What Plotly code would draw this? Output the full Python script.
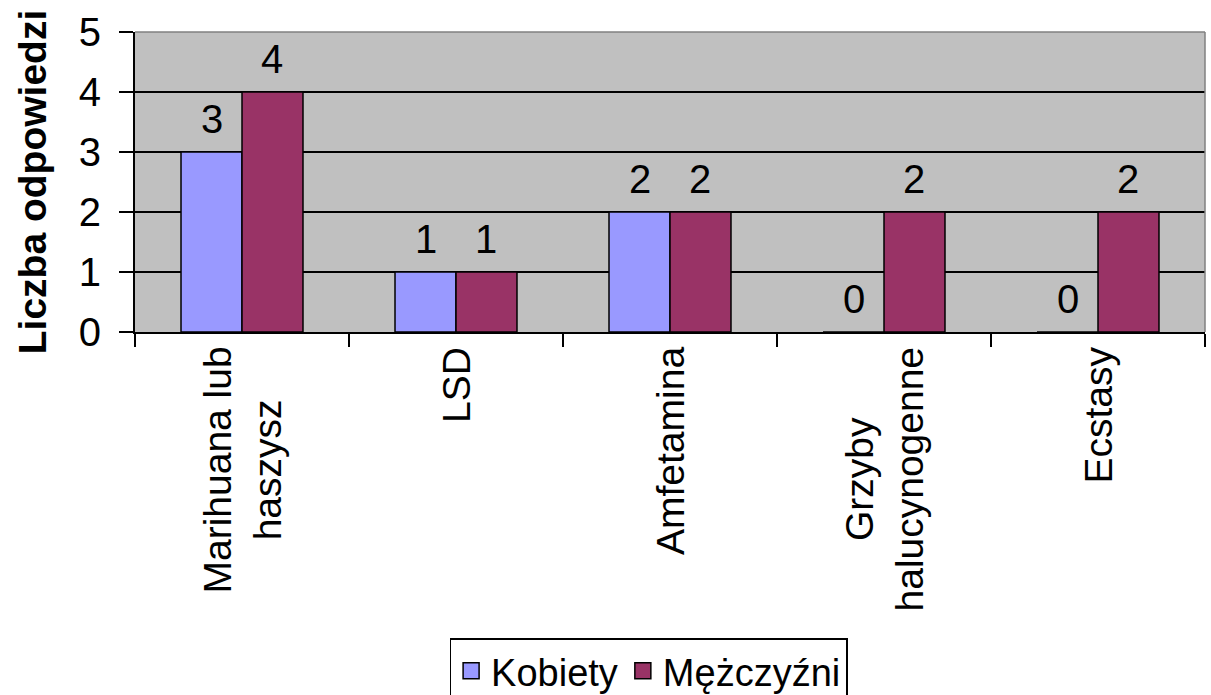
import plotly.graph_objects as go

categories = ["Marihuana lub haszysz", "LSD", "Amfetamina", "Grzyby halucynogenne", "Ecstasy"]
tick_labels = ["Marihuana lub<br>haszysz", "LSD", "Amfetamina", "Grzyby<br>halucynogenne", "Ecstasy"]
kobiety = [3, 1, 2, 0, 0]
mezczyzni = [4, 1, 2, 2, 2]
series_names = ["Kobiety", "Mężczyźni"]
colors = ["#9999FF", "#993366"]

FONT = "Liberation Sans, Arial, sans-serif"
FS = 40
FS_ROT = 39
FS_LEG = 38
W, H = 1211, 695
ML, MR, MT, MB = 135, 6, 32, 363
BARGAP = 0.43

fig = go.Figure()
for name, vals, col in zip(series_names, [kobiety, mezczyzni], colors):
    fig.add_trace(go.Bar(
        x=categories, y=vals, name=name,
        marker=dict(color=col, line=dict(color="black", width=1.5)),
        showlegend=False,
    ))
    # legend proxy with larger square symbol
    fig.add_trace(go.Scatter(
        x=[None], y=[None], mode="markers", name=name,
        marker=dict(symbol="square", size=20, color=col, line=dict(color="black", width=1.5)),
        showlegend=True,
    ))

plot_w = W - ML - MR
cat_w = plot_w / len(categories)
bar_w = cat_w * (1 - BARGAP) / 2
offsets = [-bar_w / 2, bar_w / 2]

annotations = []
for vals, off in zip([kobiety, mezczyzni], offsets):
    for c, v in zip(categories, vals):
        annotations.append(dict(
            x=c, y=v, xref="x", yref="y", text=str(v), showarrow=False,
            xshift=off, yshift=33, yanchor="middle", xanchor="center",
            font=dict(family=FONT, size=FS, color="black"),
        ))
for c, lab in zip(categories, tick_labels):
    annotations.append(dict(
        x=c, y=0, xref="x", yref="paper", text=lab, showarrow=False,
        textangle=-90, align="center", xanchor="center", yanchor="top",
        yshift=-13, font=dict(family=FONT, size=FS_ROT, color="black"),
    ))

fig.update_layout(
    width=W, height=H,
    margin=dict(l=ML, r=MR, t=MT, b=MB, autoexpand=False),
    paper_bgcolor="white", plot_bgcolor="#C0C0C0",
    barmode="group", bargap=BARGAP, bargroupgap=0,
    font=dict(family=FONT, size=FS, color="black"),
    annotations=annotations,
    legend=dict(
        orientation="h", x=0.48, xanchor="center", y=-1.02, yanchor="top",
        bordercolor="black", borderwidth=1.5, bgcolor="white",
        font=dict(family=FONT, size=FS_LEG, color="black"),
        itemsizing="trace", tracegroupgap=0,
    ),
    shapes=[
        dict(type="line", xref="x domain", yref="y domain", x0=0, x1=1, y0=1, y1=1,
             line=dict(color="#808080", width=1.5), layer="above"),
        dict(type="line", xref="x domain", yref="y domain", x0=1, x1=1, y0=0, y1=1,
             line=dict(color="#808080", width=1.5), layer="above"),
    ],
)
fig.update_xaxes(
    type="category", tickson="boundaries", ticks="outside", ticklen=13, tickwidth=2,
    tickcolor="black", showticklabels=False, showline=True, linecolor="black",
    linewidth=2, showgrid=False, zeroline=False,
)
fig.update_yaxes(
    range=[0, 5], dtick=1, ticks="outside", ticklen=14, tickwidth=2, tickcolor="black",
    showgrid=True, gridcolor="black", gridwidth=1.5, showline=True, linecolor="black",
    linewidth=2, zeroline=False, ticklabelstandoff=10,
    tickfont=dict(family=FONT, size=FS, color="black"),
    title=dict(text="<b>Liczba odpowiedzi</b>", standoff=20,
               font=dict(family=FONT, size=FS_ROT, color="black")),
)

fig.write_html("out.html", config={"displayModeBar": False},
               post_script="document.body.style.margin='0';")
